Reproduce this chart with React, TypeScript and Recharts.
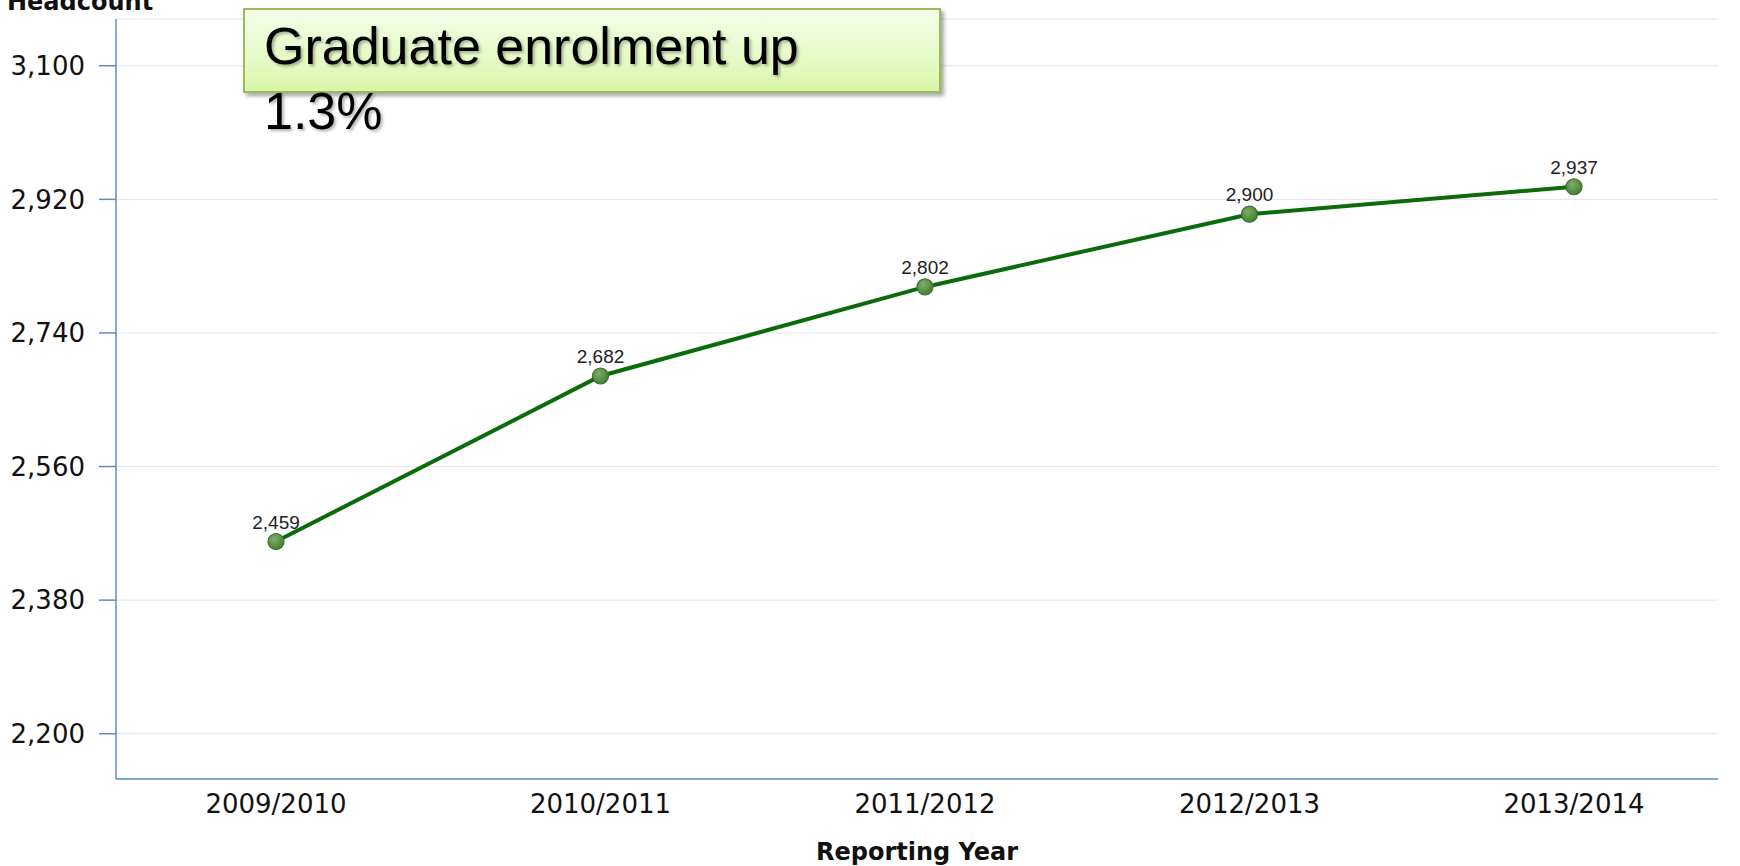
import React from 'react';
import { LineChart, Line, XAxis, YAxis, CartesianGrid, LabelList, Label } from 'recharts';

const years = ['2009/2010', '2010/2011', '2011/2012', '2012/2013', '2013/2014'];
const headcount = [2459, 2682, 2802, 2900, 2937];
const yTicks = [2200, 2380, 2560, 2740, 2920, 3100];

const data = years.map((year, i) => ({ year, headcount: headcount[i] }));

const fmt = (v: number) => v.toLocaleString('en-US');

const GreenDot = (props: any) => {
  const { cx, cy, index } = props;
  if (cx == null || cy == null) return null;
  const id = `dotGrad-${index}`;
  return (
    <g>
      <defs>
        <radialGradient id={id} cx="40%" cy="35%" r="70%">
          <stop offset="0%" stopColor="#7fae66" />
          <stop offset="100%" stopColor="#3f7a31" />
        </radialGradient>
      </defs>
      <circle cx={cx} cy={cy} r={8} fill={`url(#${id})`} stroke="#3d6f2f" strokeWidth={1.2} />
    </g>
  );
};

export default function App() {
  return (
    <div style={{ position: 'absolute', left: 0, top: 0, width: 1740, height: 866, background: '#fff' }}>
      <LineChart
        width={1740}
        height={866}
        data={data}
        margin={{ top: 19, right: 22, bottom: 0, left: 0 }}
      >
        <CartesianGrid vertical={false} stroke="#e3e3ec" strokeWidth={1} />
        <XAxis
          dataKey="year"
          height={87}
          padding={{ left: 160, right: 144 }}
          axisLine={{ stroke: '#5b8cc8', strokeWidth: 1.5 }}
          tickLine={false}
          tickSize={0}
          tickMargin={16}
          tick={{ fill: '#111', fontSize: 26, fontFamily: 'DejaVu Sans' }}
        >
          <Label
            value="Reporting Year"
            position="insideBottom"
            offset={6}
            style={{ fill: '#111', fontSize: 24, fontWeight: 'bold', fontFamily: 'DejaVu Sans' }}
          />
        </XAxis>
        <YAxis
          width={116}
          domain={[2139, 3163]}
          ticks={yTicks}
          allowDataOverflow
          interval={0}
          axisLine={{ stroke: '#5b8cc8', strokeWidth: 1.5 }}
          tickLine={{ stroke: '#5b8cc8', strokeWidth: 1.5 }}
          tickSize={17}
          tickMargin={14}
          tickFormatter={fmt}
          tick={{ fill: '#111', fontSize: 26, fontFamily: 'DejaVu Sans' }}
        >
          <Label
            content={() => (
              <text x={7} y={10} fill="#111" fontSize={24} fontWeight="bold" fontFamily="DejaVu Sans">
                Headcount
              </text>
            )}
          />
        </YAxis>
        <Line
          type="linear"
          dataKey="headcount"
          stroke="#0b6b0b"
          strokeWidth={4}
          dot={<GreenDot />}
          activeDot={false}
          isAnimationActive={false}
        >
          <LabelList
            dataKey="headcount"
            position="top"
            offset={13}
            formatter={(v: any) => fmt(Number(v))}
            style={{ fill: '#222', fontSize: 19, fontFamily: 'Liberation Sans' }}
          />
        </Line>
      </LineChart>
      <div
        style={{
          position: 'absolute',
          left: 243,
          top: 8,
          width: 694,
          height: 81,
          border: '2px solid #9bbb59',
          background: 'linear-gradient(to bottom, #f4fde9 0%, #e6fac6 60%, #d9f5a8 100%)',
          boxShadow: '3px 3px 4px rgba(0,0,0,0.35)',
        }}
      />
      <div
        style={{
          position: 'absolute',
          left: 264,
          top: 14,
          fontFamily: 'Liberation Sans',
          fontSize: 52,
          lineHeight: '65px',
          color: '#000',
          textShadow: '2px 2px 3px rgba(0,0,0,0.3)',
          whiteSpace: 'nowrap',
        }}
      >
        <div>Graduate enrolment up</div>
        <div>1.3%</div>
      </div>
    </div>
  );
}
